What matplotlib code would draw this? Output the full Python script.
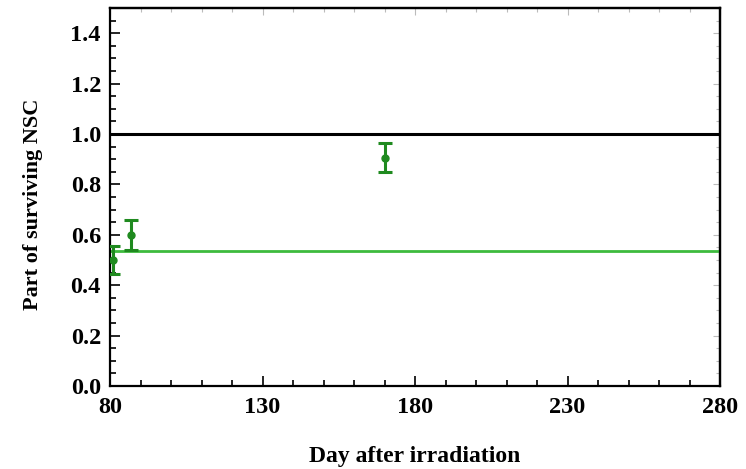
import matplotlib
matplotlib.use("Agg")
import matplotlib.pyplot as plt
from matplotlib.ticker import MultipleLocator

plt.rcParams['font.family'] = ['Liberation Serif', 'DejaVu Serif']
plt.rcParams['font.weight'] = 'bold'

days = [81, 87, 170]
surv = [0.50, 0.60, 0.906]
err_lo = [0.055, 0.06, 0.056]
err_hi = [0.055, 0.06, 0.059]
ref_level = 1.0
fit_level = 0.535
xticks = [80, 130, 180, 230, 280]
yticks = [0.0, 0.2, 0.4, 0.6, 0.8, 1.0, 1.2, 1.4]

fig = plt.figure(figsize=(7.46, 4.69), dpi=100)
ax = fig.add_axes([110/746, 1 - 386/469, 610/746, 378/469])

ax.axhline(ref_level, color='black', lw=2.2)
ax.axhline(fit_level, color='#3dbb3d', lw=2.0)
ax.errorbar(days, surv, yerr=[err_lo, err_hi], fmt='o', color='#1f8a1f',
            ms=5, elinewidth=2.2, capsize=5, capthick=2.2, zorder=3)

ax.set_xlim(80, 280)
ax.set_ylim(0, 1.5)
ax.set_xticks(xticks)
ax.set_yticks(yticks)
ax.set_xticklabels([str(t) for t in xticks])
ax.set_yticklabels([f"{t:.1f}" for t in yticks])
ax.xaxis.set_minor_locator(MultipleLocator(10))
ax.yaxis.set_minor_locator(MultipleLocator(0.05))
ax.tick_params(which='both', direction='in', top=False, right=False,
               labelsize=17.5, width=1.2)
ax.tick_params(which='major', length=7)
ax.tick_params(which='minor', length=4)
ax.tick_params(axis='x', pad=8)
ax.tick_params(axis='y', pad=6.5)
for s in ax.spines.values():
    s.set_linewidth(1.6)

# faint ticks on top and right
top = ax.secondary_xaxis('top')
top.set_xticks(xticks)
top.xaxis.set_minor_locator(MultipleLocator(10))
top.tick_params(which='both', direction='in', colors='#bbbbbb', labeltop=False, width=0.8)
top.tick_params(which='major', length=5)
top.tick_params(which='minor', length=3)
top.spines['top'].set_color('black')
top.spines['top'].set_linewidth(1.6)
right = ax.secondary_yaxis('right')
right.set_yticks(yticks)
right.yaxis.set_minor_locator(MultipleLocator(0.05))
right.tick_params(which='both', direction='in', colors='#bbbbbb', labelright=False, width=0.8)
right.tick_params(which='major', length=5)
right.tick_params(which='minor', length=3)
right.spines['right'].set_color('black')
right.spines['right'].set_linewidth(1.6)

ax.set_xlabel('Day after irradiation', fontsize=17, fontweight='bold', labelpad=20)
ax.set_ylabel('Part of surviving NSC', fontsize=16, fontweight='bold', labelpad=20)
ax.yaxis.label.set_y(0.48)

fig.savefig('out.png', dpi=100)
